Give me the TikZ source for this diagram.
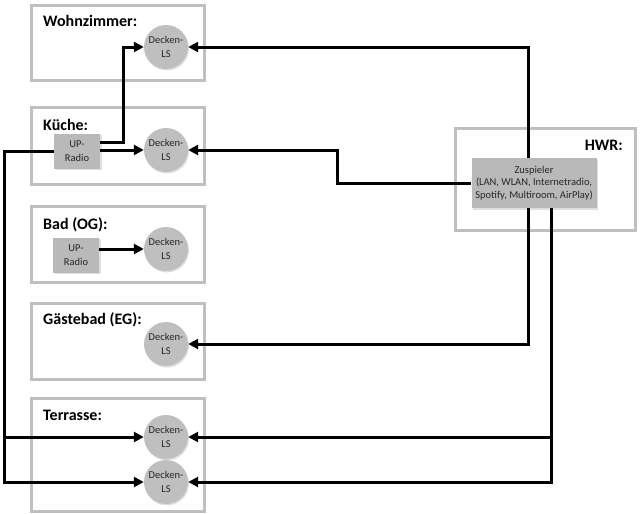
\documentclass[tikz,border=0pt]{standalone}
\usepackage{fontspec}
\setmainfont{Carlito}
\usetikzlibrary{arrows.meta,shadows}

\begin{document}
\begin{tikzpicture}[x=1pt, y=-1pt,
		room/.style={draw=gray!50, line width=3pt},
		roomlabel/.style={anchor=west, inner sep=0pt, font=\fontsize{16}{18}\selectfont\bfseries},
		speaker/.style={circle, fill=gray!50, minimum size=44pt, inner sep=0pt, align=center,
			font=\fontsize{10.5}{13.5}\selectfont, text=black!85,
			drop shadow={opacity=0.25, shadow xshift=1pt, shadow yshift=-1.5pt}},
		radio/.style={rectangle, fill=gray!55, minimum width=46pt, minimum height=35pt, inner sep=1pt,
			align=center, font=\fontsize{10.5}{13.5}\selectfont, text=black!85,
			drop shadow={opacity=0.25, shadow xshift=1.5pt, shadow yshift=-1.5pt}},
		wire/.style={line width=3pt, -{Triangle[length=10pt, width=10pt]}}]
		
		\useasboundingbox (0,0) rectangle (640,514);
		
		% Rooms
		\draw[room] (31,5) rectangle (204,80);
		\draw[room] (31,107) rectangle (204,184);
		\draw[room] (31,206) rectangle (204,282);
		\draw[room] (31,303) rectangle (204,379);
		\draw[room] (31,398) rectangle (204,511);
		\draw[room] (455,128) rectangle (635,230);
		
		\node[roomlabel] (lwohn) at (43,21) {Wohnzimmer:};
		\node[roomlabel] (lkueche) at (43,125) {Küche:};
		\node[roomlabel] (lbad) at (43,225) {Bad (OG):};
		\node[roomlabel] (lgast) at (43,320) {Gästebad (EG):};
		\node[roomlabel] (lterr) at (43,415) {Terrasse:};
		\node[roomlabel, anchor=east] (lhwr) at (623,145) {HWR:};
		
		% Speakers and players
		\node[speaker] (dwohn) at (166,47) {Decken-\\LS};
		\node[speaker] (dkueche) at (166,150) {Decken-\\LS};
		\node[speaker] (dbad) at (166,249) {Decken-\\LS};
		\node[speaker] (dgast) at (166,344) {Decken-\\LS};
		\node[speaker] (dterr1) at (166,437) {Decken-\\LS};
		\node[speaker] (dterr2) at (166,482) {Decken-\\LS};
		
		\node[radio] (ukueche) at (77,151) {UP-\\Radio};
		\node[radio] (ubad) at (76,255) {UP-\\Radio};
		\node[radio, minimum width=125pt, minimum height=50pt, font=\fontsize{10.5}{12.5}\selectfont]
			(zsp) at (534,183) {Zuspieler\\(LAN, WLAN, Internetradio,\\Spotify, Multiroom, AirPlay)};
		
		% Wires from the UP-Radios
		\draw[wire] ([yshift=9pt]ukueche.east) -- ++(23,0) |- (dwohn);
		\draw[wire] (ukueche.east |- dkueche) -- (dkueche);
		\draw[wire] (ukueche.west) -- ++(-49,0) |- (dterr1);
		\draw[wire] (ukueche.west) -- ++(-49,0) |- (dterr2);
		\draw[wire] (ubad.east |- dbad) -- (dbad);
		
		% Wires from the Zuspieler
		\draw[wire] ([xshift=-6pt]zsp.north) |- (dwohn);
		\draw[wire] (zsp.west) -- ++(-134,0) |- (dkueche);
		\draw[wire] ([xshift=-6pt]zsp.south) |- (dgast);
		\draw[wire] ([xshift=17pt]zsp.south) |- (dterr1);
		\draw[wire] ([xshift=17pt]zsp.south) |- (dterr2);
\end{tikzpicture}
\end{document}
